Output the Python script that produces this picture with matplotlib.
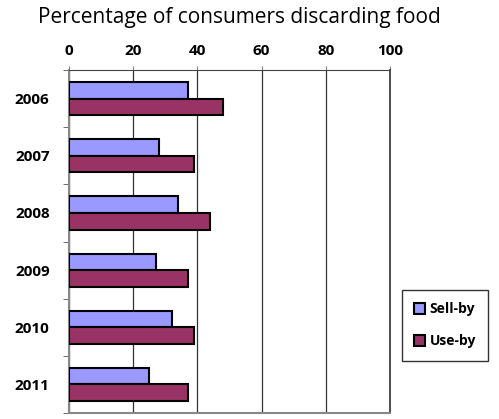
import numpy as np
import matplotlib
matplotlib.use("Agg")
import matplotlib.pyplot as plt

years = ["2006", "2007", "2008", "2009", "2010", "2011"]
sell_by = [37, 28, 34, 27, 32, 25]
use_by = [48, 39, 44, 37, 39, 37]
x_ticks = [0, 20, 40, 60, 80, 100]

plt.rcParams['font.family'] = ['Open Sans', 'DejaVu Sans']

fig = plt.figure(figsize=(4.99, 4.19), dpi=100)
ax = fig.add_axes([0.1383, 0.0143, 0.6433, 0.8186])

y = np.arange(len(years))
h = 0.29
ax.barh(y - h / 2, sell_by, height=h, color='#9999FF', edgecolor='black',
        linewidth=1.5, label='Sell-by', zorder=3)
ax.barh(y + h / 2, use_by, height=h, color='#993366', edgecolor='black',
        linewidth=1.5, label='Use-by', zorder=3)

ax.set_xlim(0, 100)
ax.set_ylim(len(years) - 0.5, -0.5)
ax.xaxis.tick_top()
ax.set_xticks(x_ticks)
ax.set_xticklabels([str(t) for t in x_ticks], fontsize=11, fontweight='bold')
ax.tick_params(axis='x', length=3, color='#888888', pad=6)

ax.set_yticks(y)
ax.set_yticklabels(years, fontsize=11, fontweight='bold')
ax.set_yticks(np.arange(len(years) + 1) - 0.5, minor=True)
ax.tick_params(axis='y', which='major', length=0, pad=14)
ax.tick_params(axis='y', which='minor', length=4, color='#555555')

ax.grid(axis='x', color='#333333', linewidth=0.9, zorder=0)
for side in ['left', 'bottom']:
    ax.spines[side].set_color('#888888')
    ax.spines[side].set_linewidth(1.5)
ax.spines['top'].set_color('#444444')
ax.spines['right'].set_color('#333333')
ax.spines['right'].set_linewidth(1.2)

fig.text(0.48, 0.958, "Percentage of consumers discarding food",
         ha='center', va='center', fontsize=15)

leg = fig.legend(loc='center', bbox_to_anchor=(0.892, 0.224), fontsize=10,
                 prop={'weight': 'bold', 'size': 10}, frameon=True,
                 fancybox=False, edgecolor='black', handlelength=0.8,
                 handleheight=0.8, handletextpad=0.3, labelspacing=1.3,
                 borderpad=0.9)
leg.get_frame().set_linewidth(1.0)

fig.savefig("out.png", dpi=100)
